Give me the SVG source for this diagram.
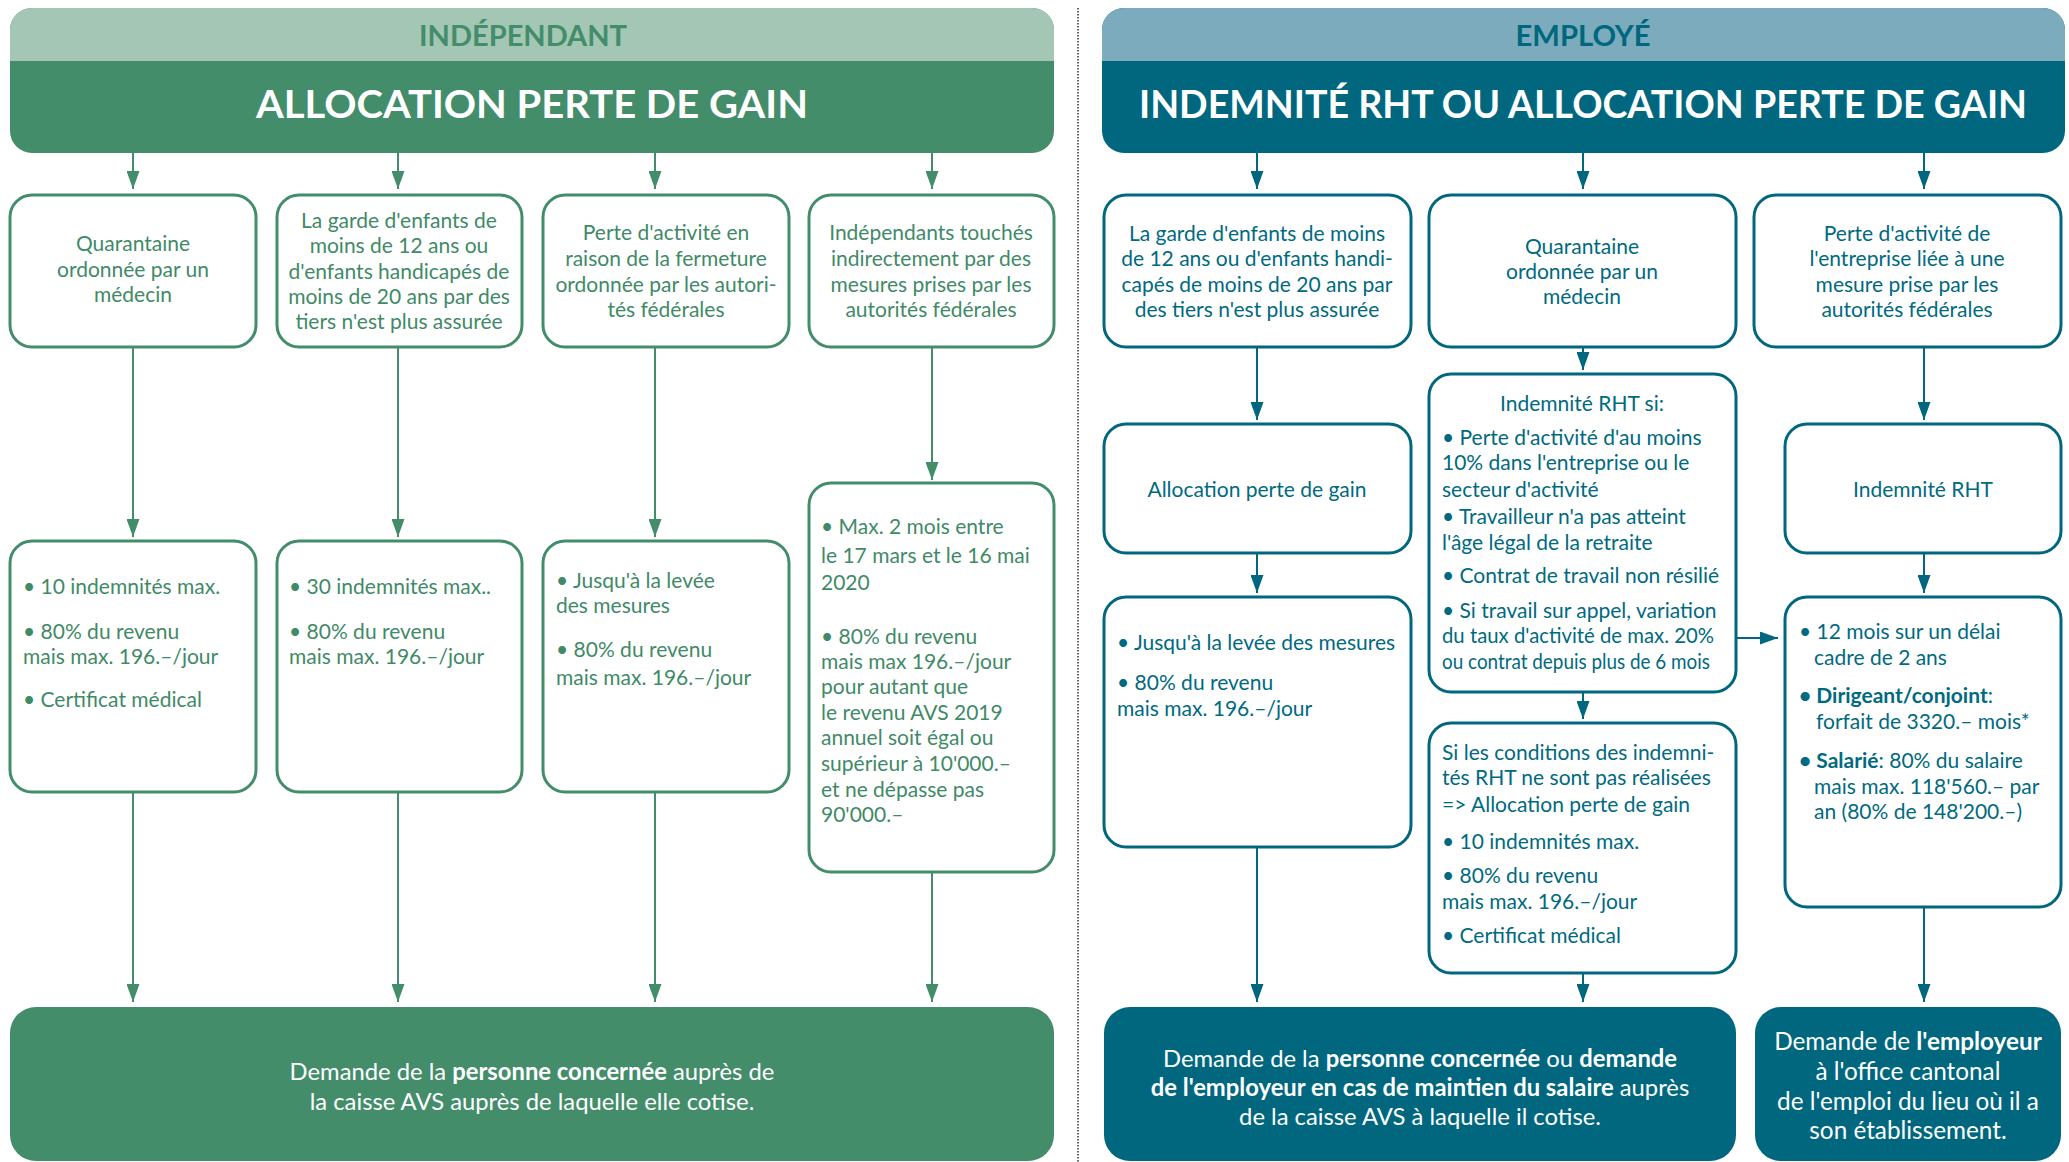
<svg xmlns="http://www.w3.org/2000/svg" width="2069" height="1162" viewBox="0 0 2069 1162">
<defs>
<style>
text{font-family:Lato,"Open Sans","Noto Sans",sans-serif;}
.g{fill:#438D6B;}
.t{fill:#00677F;}
.gl{fill:#A4C6B5;}
.tl{fill:#7BABBD;}
.bg{fill:#fff;stroke:#438D6B;stroke-width:3;}
.bt{fill:#fff;stroke:#00677F;stroke-width:3;}
.band{font-size:28px;font-weight:700;text-anchor:middle;}
.title{font-size:38.5px;font-weight:700;fill:#fff;text-anchor:middle;}
.tx{font-size:21px;}
.c{text-anchor:middle;}
.gt{fill:#3F8A67;}
.tt{fill:#006A80;}
.bot{font-size:23.8px;fill:#fff;text-anchor:middle;}
.b{font-weight:700;}
.ag{stroke:#438D6B;stroke-width:2;fill:none;marker-end:url(#mg);}
.at{stroke:#00677F;stroke-width:2;fill:none;marker-end:url(#mt);}
</style>
<marker id="mg" markerUnits="userSpaceOnUse" markerWidth="18" markerHeight="13" viewBox="0 0 18 13" refX="18" refY="6.5" orient="auto"><path d="M0,0 L18,6.5 L0,13 Z" fill="#438D6B"/></marker>
<marker id="mt" markerUnits="userSpaceOnUse" markerWidth="18" markerHeight="13" viewBox="0 0 18 13" refX="18" refY="6.5" orient="auto"><path d="M0,0 L18,6.5 L0,13 Z" fill="#00677F"/></marker>
</defs>
<rect width="2069" height="1162" fill="#fff"/>

<line x1="1078" y1="8" x2="1078" y2="1162" stroke="#666" stroke-width="2" stroke-dasharray="1.5 1.5"/>

<g id="connectors">
<path class="ag" d="M133,153 V189"/>
<path class="ag" d="M398,153 V189"/>
<path class="ag" d="M655,153 V189"/>
<path class="ag" d="M932,153 V189"/>
<path class="ag" d="M133,348 V537"/>
<path class="ag" d="M398,348 V537"/>
<path class="ag" d="M655,348 V537"/>
<path class="ag" d="M932,348 V480"/>
<path class="ag" d="M133,792 V1002"/>
<path class="ag" d="M398,792 V1002"/>
<path class="ag" d="M655,792 V1002"/>
<path class="ag" d="M932,872 V1002"/>
<path class="at" d="M1257,153 V189"/>
<path class="at" d="M1583,153 V189"/>
<path class="at" d="M1924,153 V189"/>
<path class="at" d="M1257,348 V420"/>
<path class="at" d="M1583,348 V370"/>
<path class="at" d="M1924,348 V420"/>
<path class="at" d="M1257,553 V593"/>
<path class="at" d="M1924,553 V593"/>
<path class="at" d="M1736,638 H1778"/>
<path class="at" d="M1583,692 V719"/>
<path class="at" d="M1257,847 V1002"/>
<path class="at" d="M1583,973 V1002"/>
<path class="at" d="M1924,907 V1002"/>
</g>

<g id="header-independant">
<rect class="g" x="10" y="8" width="1044" height="145" rx="22"/>
<path class="gl" d="M10,61 V30 A22,22 0 0 1 32,8 H1032 A22,22 0 0 1 1054,30 V61 Z"/>
<text class="band g" x="523" y="46" textLength="208" lengthAdjust="spacingAndGlyphs">INDÉPENDANT</text>
<text class="title" x="532" y="118" textLength="552" lengthAdjust="spacingAndGlyphs">ALLOCATION PERTE DE GAIN</text>
</g>

<g id="header-employe">
<rect class="t" x="1102" y="8" width="963" height="145" rx="22"/>
<path class="tl" d="M1102,61 V30 A22,22 0 0 1 1124,8 H2043 A22,22 0 0 1 2065,30 V61 Z"/>
<text class="band t" x="1583" y="46" textLength="135" lengthAdjust="spacingAndGlyphs">EMPLOYÉ</text>
<text class="title" x="1583" y="118" textLength="888" lengthAdjust="spacingAndGlyphs">INDEMNITÉ RHT OU ALLOCATION PERTE DE GAIN</text>
</g>

<g id="i-quarantaine">
<rect class="bg" x="10" y="195" width="246" height="152" rx="22"/>
<text class="tx c gt" x="133"><tspan x="133" y="251">Quarantaine</tspan><tspan x="133" y="277">ordonnée par un</tspan><tspan x="133" y="302">médecin</tspan></text>
</g>
<g id="i-garde">
<rect class="bg" x="277" y="195" width="245" height="152" rx="22"/>
<text class="tx c gt"><tspan x="399" y="228">La garde d'enfants de</tspan><tspan x="399" y="253">moins de 12 ans ou</tspan><tspan x="399" y="279">d'enfants handicapés de</tspan><tspan x="399" y="304">moins de 20 ans par des</tspan><tspan x="399" y="329">tiers n'est plus assurée</tspan></text>
</g>
<g id="i-fermeture">
<rect class="bg" x="543" y="195" width="246" height="152" rx="22"/>
<text class="tx c gt"><tspan x="666" y="240">Perte d'activité en</tspan><tspan x="666" y="266">raison de la fermeture</tspan><tspan x="666" y="292">ordonnée par les autori-</tspan><tspan x="666" y="317">tés fédérales</tspan></text>
</g>
<g id="i-indirect">
<rect class="bg" x="809" y="195" width="245" height="152" rx="22"/>
<text class="tx c gt"><tspan x="931" y="240">Indépendants touchés</tspan><tspan x="931" y="266">indirectement par des</tspan><tspan x="931" y="292">mesures prises par les</tspan><tspan x="931" y="317">autorités fédérales</tspan></text>
</g>

<g id="i-quarantaine-detail">
<rect class="bg" x="10" y="541" width="246" height="251" rx="22"/>
<text class="tx gt"><tspan x="23" y="594">• 10 indemnités max.</tspan><tspan x="23" y="639">• 80% du revenu</tspan><tspan x="23" y="664">mais max. 196.–/jour</tspan><tspan x="23" y="707">• Certificat médical</tspan></text>
</g>
<g id="i-garde-detail">
<rect class="bg" x="277" y="541" width="245" height="251" rx="22"/>
<text class="tx gt"><tspan x="289" y="594">• 30 indemnités max..</tspan><tspan x="289" y="639">• 80% du revenu</tspan><tspan x="289" y="664">mais max. 196.–/jour</tspan></text>
</g>
<g id="i-fermeture-detail">
<rect class="bg" x="543" y="541" width="246" height="251" rx="22"/>
<text class="tx gt"><tspan x="556" y="588">• Jusqu'à la levée</tspan><tspan x="556" y="613">des mesures</tspan><tspan x="556" y="657">• 80% du revenu</tspan><tspan x="556" y="685">mais max. 196.–/jour</tspan></text>
</g>
<g id="i-indirect-detail">
<rect class="bg" x="809" y="483" width="245" height="389" rx="22"/>
<text class="tx gt"><tspan x="821" y="534">• Max. 2 mois entre</tspan><tspan x="821" y="563">le 17 mars et le 16 mai</tspan><tspan x="821" y="590">2020</tspan><tspan x="821" y="644">• 80% du revenu</tspan><tspan x="821" y="669">mais max 196.–/jour</tspan><tspan x="821" y="694">pour autant que</tspan><tspan x="821" y="720">le revenu AVS 2019</tspan><tspan x="821" y="745">annuel soit égal ou</tspan><tspan x="821" y="771">supérieur à 10'000.–</tspan><tspan x="821" y="797">et ne dépasse pas</tspan><tspan x="821" y="822">90'000.–</tspan></text>
</g>

<g id="i-demande">
<rect class="g" x="10" y="1007" width="1044" height="154" rx="26"/>
<text class="bot"><tspan x="532" y="1080">Demande de la <tspan class="b">personne concernée</tspan> auprès de</tspan><tspan x="532" y="1110">la caisse AVS auprès de laquelle elle cotise.</tspan></text>
</g>

<g id="e-garde">
<rect class="bt" x="1104" y="195" width="307" height="152" rx="22"/>
<text class="tx c tt"><tspan x="1257" y="241">La garde d'enfants de moins</tspan><tspan x="1257" y="266">de 12 ans ou d'enfants handi-</tspan><tspan x="1257" y="292">capés de moins de 20 ans par</tspan><tspan x="1257" y="317">des tiers n'est plus assurée</tspan></text>
</g>
<g id="e-quarantaine">
<rect class="bt" x="1429" y="195" width="307" height="152" rx="22"/>
<text class="tx c tt"><tspan x="1582" y="254">Quarantaine</tspan><tspan x="1582" y="279">ordonnée par un</tspan><tspan x="1582" y="304">médecin</tspan></text>
</g>
<g id="e-entreprise">
<rect class="bt" x="1754" y="195" width="307" height="152" rx="22"/>
<text class="tx c tt"><tspan x="1907" y="241">Perte d'activité de</tspan><tspan x="1907" y="266">l'entreprise liée à une</tspan><tspan x="1907" y="292">mesure prise par les</tspan><tspan x="1907" y="317">autorités fédérales</tspan></text>
</g>

<g id="e-apg">
<rect class="bt" x="1104" y="424" width="307" height="129" rx="22"/>
<text class="tx c tt" x="1257" y="497">Allocation perte de gain</text>
</g>
<g id="e-rht-si">
<rect class="bt" x="1429" y="374" width="307" height="318" rx="22"/>
<text class="tx tt"><tspan x="1582" y="411" text-anchor="middle">Indemnité RHT si:</tspan><tspan x="1442" y="445">• Perte d'activité d'au moins</tspan><tspan x="1442" y="470">10% dans l'entreprise ou le</tspan><tspan x="1442" y="497">secteur d'activité</tspan><tspan x="1442" y="524">• Travailleur n'a pas atteint</tspan><tspan x="1442" y="550">l'âge légal de la retraite</tspan><tspan x="1442" y="583">• Contrat de travail non résilié</tspan><tspan x="1442" y="618">• Si travail sur appel, variation</tspan></text>
<text class="tx tt" x="1442" y="643" textLength="272" lengthAdjust="spacingAndGlyphs">du taux d'activité de max. 20%</text>
<text class="tx tt" x="1442" y="669" textLength="268" lengthAdjust="spacingAndGlyphs">ou contrat depuis plus de 6 mois</text>
</g>
<g id="e-rht">
<rect class="bt" x="1785" y="424" width="276" height="129" rx="22"/>
<text class="tx c tt" x="1923" y="497">Indemnité RHT</text>
</g>

<g id="e-apg-detail">
<rect class="bt" x="1104" y="597" width="307" height="250" rx="22"/>
<text class="tx tt"><tspan x="1117" y="650">• Jusqu'à la levée des mesures</tspan><tspan x="1117" y="690">• 80% du revenu</tspan><tspan x="1117" y="716">mais max. 196.–/jour</tspan></text>
</g>
<g id="e-rht-detail">
<rect class="bt" x="1785" y="597" width="276" height="310" rx="22"/>
<text class="tx tt"><tspan x="1799" y="639">• 12 mois sur un délai</tspan><tspan x="1814" y="665">cadre de 2 ans</tspan><tspan x="1799" y="703" class="b">• Dirigeant/conjoint<tspan font-weight="400">:</tspan></tspan><tspan x="1816" y="729">forfait de 3320.– mois*</tspan><tspan x="1799" y="768"><tspan class="b">• Salarié</tspan>: 80% du salaire</tspan><tspan x="1814" y="794">mais max. 118'560.– par</tspan><tspan x="1814" y="819">an (80% de 148'200.–)</tspan></text>
</g>
<g id="e-sinon-apg">
<rect class="bt" x="1429" y="723" width="307" height="250" rx="22"/>
<text class="tx tt"><tspan x="1442" y="760">Si les conditions des indemni-</tspan><tspan x="1442" y="785">tés RHT ne sont pas réalisées</tspan><tspan x="1442" y="812">=&gt; Allocation perte de gain</tspan><tspan x="1442" y="849">• 10 indemnités max.</tspan><tspan x="1442" y="883">• 80% du revenu</tspan><tspan x="1442" y="909">mais max. 196.–/jour</tspan><tspan x="1442" y="943">• Certificat médical</tspan></text>
</g>

<g id="e-demande-personne">
<rect class="t" x="1104" y="1007" width="632" height="154" rx="26"/>
<text class="bot"><tspan x="1420" y="1067">Demande de la <tspan class="b">personne concernée</tspan> ou <tspan class="b">demande</tspan></tspan><tspan x="1420" y="1096"><tspan class="b">de l'employeur en cas de maintien du salaire</tspan> auprès</tspan><tspan x="1420" y="1125">de la caisse AVS à laquelle il cotise.</tspan></text>
</g>
<g id="e-demande-employeur">
<rect class="t" x="1755" y="1007" width="306" height="154" rx="26"/>
<text class="bot" style="font-size:24.3px"><tspan x="1908" y="1050">Demande de <tspan class="b">l'employeur</tspan></tspan><tspan x="1908" y="1080">à l'office cantonal</tspan><tspan x="1908" y="1110">de l'emploi du lieu où il a</tspan><tspan x="1908" y="1139">son établissement.</tspan></text>
</g>
</svg>
